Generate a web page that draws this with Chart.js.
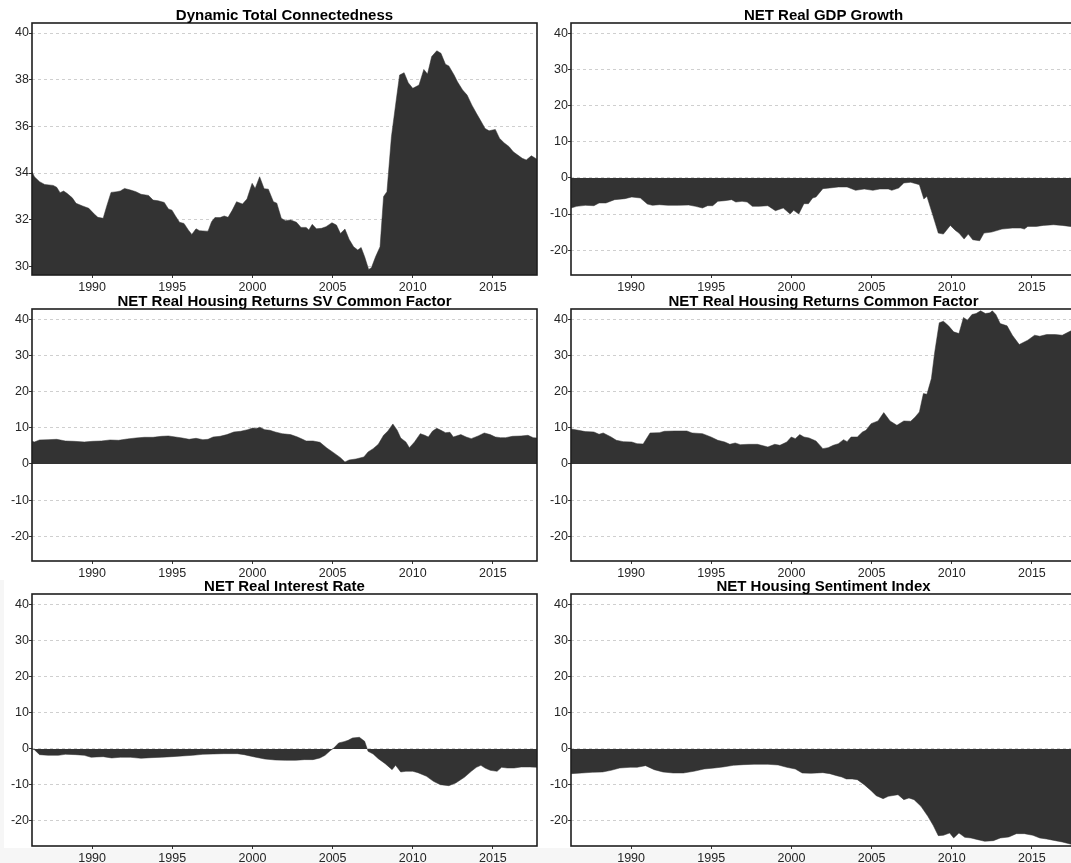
<!DOCTYPE html>
<html>
<head>
<meta charset="utf-8">
<script src="https://cdn.jsdelivr.net/npm/chart.js@4.4.0/dist/chart.umd.min.js"></script>
<style>
  html, body { margin: 0; padding: 0; background: #ffffff; overflow: hidden; }
  body { width: 1071px; height: 863px; position: relative; }
  canvas { position: absolute; }
  .strip { position: absolute; background: #f6f6f6; }
</style>
</head>
<body>
<div class="strip" style="left:0;top:848px;width:1071px;height:15px;"></div>
<div class="strip" style="left:0;top:580px;width:4px;height:283px;"></div>

<canvas id="c1" width="545" height="295" style="left:0px;top:0px;"></canvas>
<canvas id="c2" width="545" height="295" style="left:539px;top:0px;"></canvas>
<canvas id="c3" width="545" height="295" style="left:0px;top:286px;"></canvas>
<canvas id="c4" width="545" height="295" style="left:539px;top:286px;"></canvas>
<canvas id="c5" width="545" height="295" style="left:0px;top:571px;"></canvas>
<canvas id="c6" width="545" height="295" style="left:539px;top:571px;"></canvas>

<script>
// ---------------- DATA ----------------
const xTicks = [1990, 1995, 2000, 2005, 2010, 2015];
const tciTicks = [30, 32, 34, 36, 38, 40];
const netTicks = [-20, -10, 0, 10, 20, 30, 40];

const titles = [
  "Dynamic Total Connectedness",
  "NET Real GDP Growth",
  "NET Real Housing Returns SV Common Factor",
  "NET Real Housing Returns Common Factor",
  "NET Real Interest Rate",
  "NET Housing Sentiment Index"
];

// Dynamic Total Connectedness
const tciYears = [1986.25,1986.40,1986.72,1987.04,1987.57,1987.79,1988.00,1988.22,1988.43,1988.76,1989.00,1989.40,1989.79,1990.15,1990.36,1990.69,1990.90,1991.18,1991.55,1991.76,1992.02,1992.40,1992.73,1993.05,1993.52,1993.80,1994.12,1994.50,1994.76,1994.98,1995.19,1995.45,1995.73,1996.00,1996.22,1996.48,1996.70,1997.12,1997.23,1997.45,1997.66,1997.98,1998.24,1998.48,1998.73,1999.01,1999.38,1999.66,1999.98,2000.17,2000.45,2000.73,2000.99,2001.31,2001.52,2001.80,2002.06,2002.38,2002.75,2003.03,2003.35,2003.52,2003.73,2003.99,2004.31,2004.59,2004.96,2005.24,2005.49,2005.77,2006.03,2006.31,2006.57,2006.78,2007.00,2007.25,2007.42,2007.68,2007.96,2008.18,2008.39,2008.67,2008.97,2009.18,2009.46,2009.72,2010.00,2010.39,2010.69,2010.92,2011.18,2011.50,2011.76,2012.04,2012.25,2012.58,2012.79,2013.11,2013.39,2013.69,2013.97,2014.25,2014.51,2014.76,2015.15,2015.41,2015.69,2016.01,2016.27,2016.55,2016.83,2017.08,2017.40,2017.75];
const tciValues = [34.06,33.84,33.63,33.51,33.47,33.39,33.16,33.23,33.13,32.94,32.70,32.59,32.49,32.23,32.10,32.06,32.56,33.17,33.20,33.23,33.34,33.27,33.20,33.09,33.04,32.84,32.81,32.74,32.46,32.41,32.17,31.89,31.84,31.56,31.37,31.61,31.53,31.51,31.51,31.91,32.09,32.09,32.16,32.10,32.39,32.77,32.67,32.89,33.56,33.34,33.84,33.33,33.31,32.77,32.71,32.06,31.96,31.99,31.89,31.67,31.67,31.56,31.80,31.61,31.63,31.70,31.87,31.77,31.41,31.60,31.16,30.84,30.70,30.81,30.41,29.87,29.94,30.41,30.84,32.99,33.20,35.56,37.13,38.20,38.30,37.87,37.63,37.77,38.44,38.24,38.99,39.24,39.13,38.66,38.59,38.20,37.91,37.56,37.34,36.91,36.56,36.23,35.91,35.81,35.87,35.49,35.30,35.13,34.91,34.77,34.63,34.56,34.74,34.59];

// NET Real GDP Growth
const gdpYears = [1986.25,1986.60,1987.14,1987.68,1988.00,1988.43,1988.97,1989.61,1990.04,1990.58,1991.01,1991.33,1991.76,1992.30,1992.94,1993.59,1994.02,1994.45,1994.77,1995.09,1995.41,1995.84,1996.27,1996.53,1996.92,1997.24,1997.56,1997.99,1998.53,1999.00,1999.49,1999.92,2000.14,2000.46,2000.78,2001.06,2001.32,2001.53,2001.96,2002.39,2002.93,2003.47,2004.00,2004.54,2005.08,2005.51,2006.04,2006.26,2006.69,2007.01,2007.44,2007.98,2008.26,2008.45,2008.84,2009.16,2009.48,2009.91,2010.23,2010.45,2010.77,2011.03,2011.31,2011.74,2012.01,2012.49,2013.13,2013.78,2014.31,2014.53,2014.74,2015.28,2015.71,2016.35,2016.89,2017.38,2017.75];
const gdpValues = [-8.33,-7.87,-7.60,-7.69,-6.94,-6.94,-6.02,-5.74,-5.28,-5.56,-7.22,-7.59,-7.41,-7.59,-7.59,-7.50,-7.87,-8.33,-7.69,-7.69,-6.48,-6.30,-6.02,-6.67,-6.48,-6.67,-7.87,-7.87,-7.69,-9.07,-8.33,-10.00,-8.98,-10.00,-7.13,-7.13,-5.56,-5.28,-2.96,-2.78,-2.50,-2.50,-3.43,-3.06,-3.43,-3.06,-3.06,-3.43,-2.78,-1.39,-1.20,-1.85,-5.83,-5.09,-10.65,-15.28,-15.56,-13.15,-14.54,-15.28,-16.94,-15.56,-17.13,-17.41,-15.28,-15.00,-14.17,-13.89,-13.89,-14.17,-13.43,-13.43,-13.15,-12.96,-13.15,-13.43,-13.60];

// NET Real Housing Returns SV Common Factor
const svYears = [1986.25,1986.40,1986.72,1987.25,1987.79,1988.33,1988.86,1989.51,1990.04,1990.58,1991.12,1991.65,1992.19,1992.73,1993.26,1993.80,1994.33,1994.76,1995.19,1995.62,1996.05,1996.48,1996.91,1997.23,1997.55,1997.98,1998.41,1998.84,1999.27,1999.70,2000.02,2000.24,2000.45,2000.77,2001.09,2001.42,2001.85,2002.38,2002.81,2003.13,2003.35,2003.78,2004.21,2004.64,2005.06,2005.49,2005.77,2006.03,2006.46,2006.95,2007.21,2007.53,2007.85,2008.18,2008.45,2008.76,2009.03,2009.25,2009.57,2009.79,2010.11,2010.47,2010.75,2010.97,2011.24,2011.50,2011.76,2012.04,2012.32,2012.53,2013.00,2013.33,2013.65,2014.08,2014.46,2014.83,2015.15,2015.47,2015.79,2016.22,2016.76,2017.19,2017.51,2017.75];
const svValues = [6.28,6.10,6.65,6.74,6.83,6.37,6.28,6.10,6.28,6.37,6.65,6.56,6.93,7.20,7.39,7.39,7.66,7.76,7.48,7.20,6.83,7.11,6.74,6.83,7.48,7.66,8.13,8.86,9.05,9.51,9.97,9.79,10.16,9.51,9.33,8.86,8.40,8.13,7.48,6.83,6.37,6.37,6.00,4.43,3.14,1.75,0.55,1.11,1.39,1.94,3.32,4.25,5.45,7.94,9.14,11.08,9.33,7.20,6.10,4.52,6.10,8.40,7.94,7.48,9.14,9.88,9.33,8.68,8.77,7.48,8.13,7.48,7.02,7.76,8.59,8.13,7.48,7.29,7.29,7.66,7.76,7.94,7.29,7.20];

// NET Real Housing Returns Common Factor
const cfYears = [1986.25,1986.71,1987.14,1987.68,1988.00,1988.26,1988.75,1989.08,1989.51,1990.04,1990.37,1990.75,1991.18,1991.76,1992.08,1992.73,1993.48,1993.80,1994.45,1994.98,1995.41,1995.84,1996.16,1996.49,1996.81,1997.35,1997.88,1998.53,1998.96,1999.28,1999.71,1999.99,2000.24,2000.52,2000.78,2001.10,2001.53,2001.96,2002.29,2002.61,2002.93,2003.25,2003.47,2003.72,2004.11,2004.43,2004.65,2004.97,2005.40,2005.76,2006.15,2006.58,2007.01,2007.44,2007.72,2007.98,2008.23,2008.45,2008.73,2008.94,2009.22,2009.48,2009.80,2010.12,2010.45,2010.73,2010.98,2011.26,2011.52,2011.80,2012.10,2012.38,2012.53,2012.75,2013.02,2013.45,2013.78,2014.21,2014.74,2015.17,2015.49,2015.92,2016.46,2016.89,2017.38,2017.75];
const cfValues = [9.70,9.33,8.96,8.86,8.22,8.59,7.48,6.56,6.19,6.09,5.63,5.54,8.59,8.68,9.05,9.14,9.14,8.59,8.40,7.48,6.56,6.09,5.45,5.82,5.36,5.45,5.45,4.71,5.45,5.17,6.09,7.48,7.02,8.13,7.48,7.20,6.37,4.25,4.52,5.17,5.63,6.74,6.19,7.48,7.48,8.86,9.33,11.17,11.91,14.22,11.91,10.71,11.91,11.82,13.02,14.40,19.48,19.30,23.64,31.02,39.07,39.53,38.23,36.57,36.10,40.54,39.80,41.37,41.65,42.39,41.65,41.83,42.39,41.37,38.87,38.23,35.64,33.06,34.26,35.64,35.36,35.83,35.83,35.64,36.75,37.50];

// NET Real Interest Rate
const irYears = [1986.25,1986.40,1986.72,1987.25,1987.90,1988.33,1988.97,1989.51,1989.94,1990.26,1990.69,1991.22,1991.76,1992.40,1993.05,1993.69,1994.33,1994.98,1995.62,1996.27,1996.91,1997.55,1998.20,1999.06,1999.48,2000.13,2000.77,2001.42,2002.06,2002.70,2003.24,2003.78,2004.21,2004.53,2004.85,2005.06,2005.38,2005.71,2005.97,2006.24,2006.67,2007.00,2007.21,2007.53,2007.85,2008.28,2008.71,2008.93,2009.25,2009.57,2010.00,2010.32,2010.86,2011.29,2011.72,2012.25,2012.68,2013.22,2013.65,2013.97,2014.25,2014.51,2014.83,2015.26,2015.54,2015.90,2016.33,2016.76,2017.30,2017.75];
const irValues = [0.00,-0.20,-1.57,-1.76,-1.76,-1.48,-1.57,-1.76,-2.31,-2.22,-2.13,-2.50,-2.31,-2.31,-2.59,-2.41,-2.31,-2.13,-1.94,-1.76,-1.48,-1.39,-1.30,-1.30,-1.57,-2.22,-2.78,-3.06,-3.15,-3.15,-2.96,-2.96,-2.50,-1.76,-0.46,0.19,1.67,2.04,2.41,3.06,3.24,2.13,-0.65,-1.39,-2.69,-4.07,-5.74,-4.54,-6.39,-6.20,-6.20,-6.57,-7.59,-8.98,-9.91,-10.19,-9.44,-7.87,-6.20,-5.09,-4.54,-5.28,-5.93,-6.20,-5.09,-5.28,-5.28,-5.00,-5.00,-5.09];

// NET Housing Sentiment Index
const hsYears = [1986.25,1986.93,1987.57,1988.22,1988.75,1989.29,1989.94,1990.37,1990.90,1991.44,1991.98,1992.62,1993.26,1993.91,1994.55,1995.20,1995.73,1996.38,1997.02,1997.67,1998.53,1999.17,1999.71,2000.24,2000.67,2001.21,2001.96,2002.39,2002.82,2003.14,2003.42,2003.79,2004.11,2004.54,2004.97,2005.29,2005.72,2006.04,2006.65,2007.01,2007.33,2007.65,2008.08,2008.51,2008.84,2009.16,2009.48,2009.87,2010.12,2010.45,2010.81,2011.20,2011.63,2012.06,2012.60,2013.03,2013.56,2014.03,2014.53,2015.06,2015.49,2015.92,2016.46,2016.89,2017.38,2017.75];
const hsValues = [-6.85,-6.67,-6.48,-6.39,-5.93,-5.28,-5.09,-5.09,-4.63,-5.74,-6.39,-6.67,-6.67,-6.20,-5.56,-5.28,-5.00,-4.54,-4.35,-4.26,-4.26,-4.44,-5.09,-5.56,-6.67,-6.76,-6.57,-6.85,-7.41,-7.78,-8.33,-8.33,-8.52,-9.91,-11.57,-12.96,-13.80,-13.15,-12.69,-14.07,-13.61,-14.07,-15.93,-18.70,-21.20,-24.07,-23.98,-23.33,-24.72,-23.33,-24.54,-24.72,-25.19,-25.65,-25.46,-24.72,-24.44,-23.52,-23.52,-23.98,-24.72,-25.00,-25.46,-25.83,-26.39,-26.80];

// ---------------- CHARTS ----------------
const FONT = "'Liberation Sans', Arial, sans-serif";
const X_MIN = 1986.25, X_MAX = 2017.75;

const panels = [
  { id: 'c1', title: titles[0], xs: tciYears, ys: tciValues, yMin: 29.63, yMax: 40.43, yTicks: tciTicks, fill: 'start' },
  { id: 'c2', title: titles[1], xs: gdpYears, ys: gdpValues, yMin: -26.9, yMax: 42.95, yTicks: netTicks, fill: 'origin' },
  { id: 'c3', title: titles[2], xs: svYears, ys: svValues, yMin: -26.85, yMax: 42.9, yTicks: netTicks, fill: 'origin' },
  { id: 'c4', title: titles[3], xs: cfYears, ys: cfValues, yMin: -26.85, yMax: 42.9, yTicks: netTicks, fill: 'origin' },
  { id: 'c5', title: titles[4], xs: irYears, ys: irValues, yMin: -26.95, yMax: 43.05, yTicks: netTicks, fill: 'origin' },
  { id: 'c6', title: titles[5], xs: hsYears, ys: hsValues, yMin: -26.95, yMax: 43.05, yTicks: netTicks, fill: 'origin' }
];

const frame = {
  id: 'frame',
  afterDraw(chart, args, opts) {
    const { ctx, chartArea: a } = chart;
    ctx.save();
    ctx.strokeStyle = '#1e1e1e';
    ctx.lineWidth = 1.6;
    ctx.strokeRect(a.left, a.top, a.right - a.left, a.bottom - a.top);
    ctx.fillStyle = '#000';
    ctx.font = 'bold 15px ' + FONT;
    ctx.textAlign = 'center';
    ctx.textBaseline = 'alphabetic';
    ctx.fillText(opts.text, (a.left + a.right) / 2, a.top - 3);
    ctx.restore();
  }
};

panels.forEach(p => {
  const data = p.xs.map((x, i) => ({ x: x, y: p.ys[i] }));
  new Chart(document.getElementById(p.id), {
    type: 'line',
    data: {
      datasets: [{
        data: data,
        fill: p.fill,
        backgroundColor: '#333333',
        borderColor: '#333333',
        borderWidth: 0.5,
        pointRadius: 0,
        tension: 0
      }]
    },
    options: {
      responsive: false,
      animation: false,
      devicePixelRatio: 1,
      layout: { padding: { top: 23, right: 8, left: 0, bottom: 0 } },
      plugins: {
        legend: { display: false },
        tooltip: { enabled: false },
        title: { display: false },
        frame: { text: p.title }
      },
      scales: {
        x: {
          type: 'linear',
          min: X_MIN,
          max: X_MAX,
          afterBuildTicks: s => { s.ticks = xTicks.map(v => ({ value: v })); },
          afterFit: s => { s.height = 20; },
          border: { display: false },
          grid: { display: true, drawOnChartArea: false, drawTicks: true, tickLength: 3, tickColor: '#333', tickWidth: 1 },
          ticks: { autoSkip: false, maxRotation: 0, padding: 2, color: '#262626', font: { family: FONT, size: 12.5 }, callback: v => String(v) }
        },
        y: {
          type: 'linear',
          min: p.yMin,
          max: p.yMax,
          afterBuildTicks: s => { s.ticks = p.yTicks.map(v => ({ value: v })); },
          afterFit: s => { s.width = 32; },
          border: { display: false, dash: [3, 3] },
          grid: { display: true, drawOnChartArea: true, color: '#cfcfcf', lineWidth: 1, drawTicks: true, tickLength: 3, tickColor: '#333', tickWidth: 1, tickBorderDash: [] },
          ticks: { autoSkip: false, padding: 0, color: '#262626', font: { family: FONT, size: 12.5 }, callback: v => String(v) }
        }
      }
    },
    plugins: [frame]
  });
});
</script>
</body>
</html>
